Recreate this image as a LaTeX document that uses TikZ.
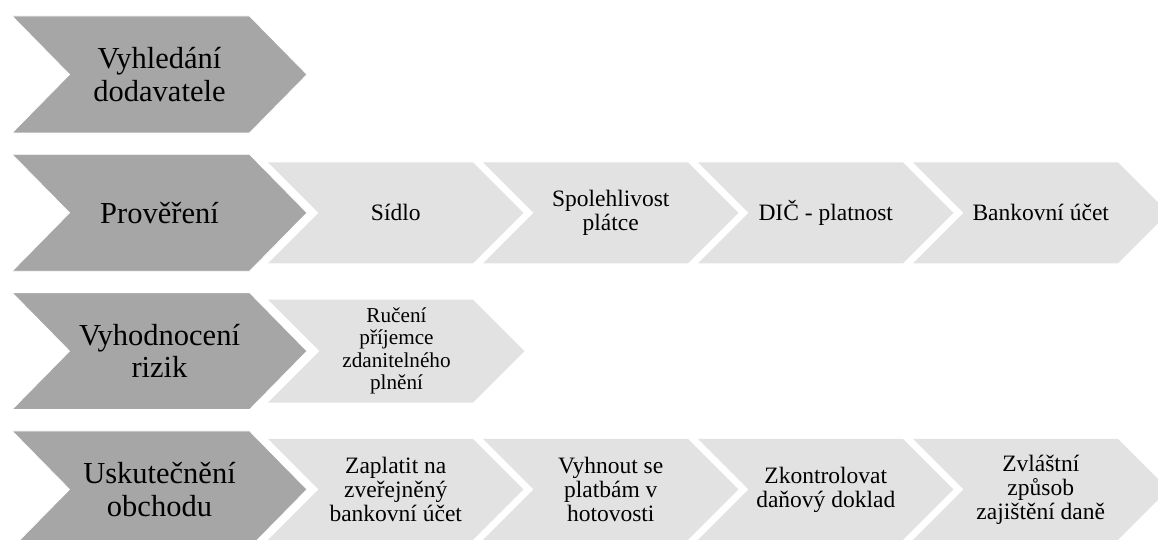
\documentclass[tikz,border=0pt]{standalone}
\usepackage{fontspec}
\setmainfont{Liberation Serif}
\definecolor{chevdark}{RGB}{166,166,166}
\definecolor{chevlight}{RGB}{226,226,226}
\begin{document}
\begin{tikzpicture}[x=1pt,y=-1pt,
  darkchev/.style={fill=chevdark, draw=white, line width=0.8pt},
  lightchev/.style={fill=chevlight},
  bigtxt/.style={font=\fontsize{30.5}{32.5}\selectfont, align=center, inner sep=0pt, text=black},
  smalltxt/.style={font=\fontsize{23.5}{24}\selectfont, align=center, inner sep=0pt, text=black},
  tinytxt/.style={font=\fontsize{21.2}{22.5}\selectfont, align=center, inner sep=0pt, text=black}]
\useasboundingbox (0,0) rectangle (1158,540);
\clip (0,0) rectangle (1158,540);
% dark chevrons
\foreach \yc in {74.5,212.8,351.1,489.4}
  \filldraw[darkchev] (12,\yc-58.5) -- (249.5,\yc-58.5) -- (307,\yc) -- (249.5,\yc+58.5) -- (12,\yc+58.5) -- (69.5,\yc) -- cycle;
% light chevrons
\foreach \yc in {212.8,489.4}
  \foreach \xl in {268,483,698,913}
    \fill[lightchev] (\xl,\yc-50.5) -- (\xl+205,\yc-50.5) -- (\xl+255.5,\yc) -- (\xl+205,\yc+50.5) -- (\xl,\yc+50.5) -- (\xl+50.5,\yc) -- cycle;
\fill[lightchev] (268,351.1-51.5) -- (268+205,351.1-51.5) -- (268+256.5,351.1) -- (268+205,351.1+51.5) -- (268,351.1+51.5) -- (268+51.5,351.1) -- cycle;
% dark texts
\node[bigtxt] (d1) at (159.5,74.5) {Vyhledání\\dodavatele};
\node[bigtxt] (d2) at (159.5,212.8) {Prověření};
\node[bigtxt] (d3) at (159.5,351.1) {Vyhodnocení\\rizik};
\node[bigtxt] (d4) at (159.5,489.4) {Uskutečnění\\obchodu};
% row 2
\node[smalltxt] (b1) at (395.75,212.8) {Sídlo};
\node[smalltxt] (b2) at (610.75,212.8) {Spolehlivost\\plátce};
\node[smalltxt] (b3) at (825.75,212.8) {DIČ - platnost};
\node[smalltxt] (b4) at (1040.75,212.8) {Bankovní účet};
% row 3
\node[tinytxt] (c1) at (396.5,351.1) {Ručení\\příjemce\\zdanitelného\\plnění};
% row 4
\node[smalltxt] (e1) at (395.75,489.4) {Zaplatit na\\zveřejněný\\bankovní účet};
\node[smalltxt] (e2) at (610.75,489.4) {Vyhnout se\\platbám v\\hotovosti};
\node[smalltxt] (e3) at (825.75,489.4) {Zkontrolovat\\daňový doklad};
\node[smalltxt] (e4) at (1040.75,489.4) {Zvláštní\\způsob\\zajištění daně};
\end{tikzpicture}
\end{document}
